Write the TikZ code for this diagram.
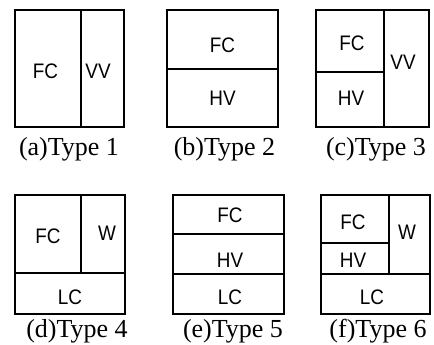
\documentclass[tikz,border=0pt]{standalone}
\usepackage{fontspec}
\setmainfont{Liberation Serif}
\newfontfamily\partfont{Liberation Sans}[FakeStretch=0.9]
\begin{document}
\begin{tikzpicture}[x=1pt,y=-1pt,
  frame/.style={draw=black,line width=1.3pt},
  part/.style={font=\partfont\fontsize{21}{21}\selectfont,inner sep=0pt},
  captext/.style={font=\fontsize{26}{26}\selectfont,inner sep=0pt}]
\useasboundingbox (0,0) rectangle (434,345);
% (a)
\draw[frame] (15,10) rectangle (124,127);
\draw[frame] (81,10) -- (81,127);
\node[part] (a1) at (45.5,71) {FC};
\node[part] (a2) at (98,71) {VV};
\node[captext] (ca) at (69,149) {(a)Type 1};
% (b)
\draw[frame] (167,10) rectangle (278,127);
\draw[frame] (167,69) -- (278,69);
\node[part] (b1) at (222.5,45) {FC};
\node[part] (b2) at (222.5,98) {HV};
\node[captext] (cb) at (224.5,149) {(b)Type 2};
% (c)
\draw[frame] (316,10) rectangle (429,127);
\draw[frame] (384,10) -- (384,127);
\draw[frame] (316,72) -- (384,72);
\node[part] (c1) at (352,43) {FC};
\node[part] (c2) at (351,98) {HV};
\node[part] (c3) at (403,62) {VV};
\node[captext] (cc) at (376,149) {(c)Type 3};
% (d)
\draw[frame] (15,195) rectangle (125,314);
\draw[frame] (15,273) -- (125,273);
\draw[frame] (81,195) -- (81,273);
\node[part] (d1) at (48,236) {FC};
\node[part] (d2) at (107,233) {W};
\node[part] (d3) at (70,297) {LC};
\node[captext] (cd) at (77,331) {(d)Type 4};
% (e)
\draw[frame] (173,195) rectangle (284,314);
\draw[frame] (173,234) -- (284,234);
\draw[frame] (173,274) -- (284,274);
\node[part] (e1) at (230,215) {FC};
\node[part] (e2) at (230,260) {HV};
\node[part] (e3) at (230,297) {LC};
\node[captext] (ce) at (233,331) {(e)Type 5};
% (f)
\draw[frame] (321,195) rectangle (430,314);
\draw[frame] (321,274) -- (430,274);
\draw[frame] (389,195) -- (389,274);
\draw[frame] (321,243) -- (389,243);
\node[part] (f1) at (353,222) {FC};
\node[part] (f2) at (353,260) {HV};
\node[part] (f3) at (407,232) {W};
\node[part] (f4) at (372,297) {LC};
\node[captext] (cf) at (378,331) {(f)Type 6};
\end{tikzpicture}
\end{document}
